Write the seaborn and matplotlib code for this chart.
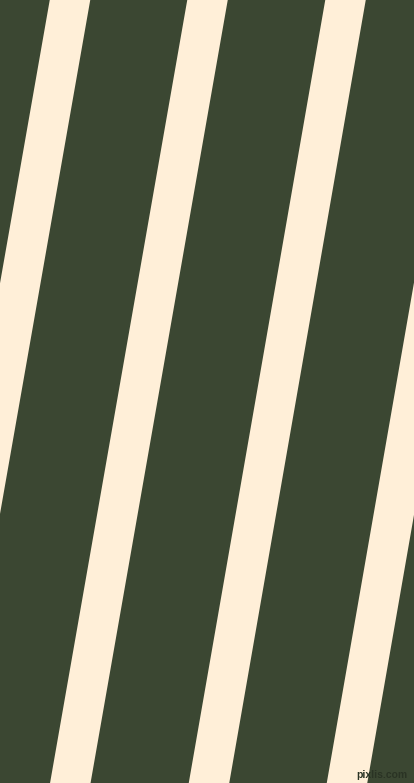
import numpy as np
import pandas as pd
import matplotlib
matplotlib.use("Agg")
import matplotlib.pyplot as plt
import seaborn as sns

# Stripe data (x position of each stripe centre at the top and bottom edge, px)
stripe_top_x = [-68.0, 70.0, 207.5, 345.5, 483.5, 621.0]
stripe_bottom_x = [-205.5, -67.5, 70.3, 209.0, 347.0, 485.0]
stripe_width = [40.5] * 6

background_color = "#3B4732"
stripe_color = "#FFEFD8"
watermark_text = "pixlis.com"

W, H = 414, 783

sns.set_theme(style="white")
plt.rcParams["font.family"] = ["Liberation Sans Narrow", "Liberation Sans", "DejaVu Sans"]

fig = plt.figure(figsize=(W / 100 + 1e-4, H / 100 + 1e-4), dpi=100)
ax = fig.add_axes([0, 0, 1, 1])
ax.set_facecolor(background_color)
fig.patch.set_facecolor(background_color)

df = pd.DataFrame({"top": stripe_top_x, "bottom": stripe_bottom_x, "width": stripe_width})
ys = np.array([0.0, float(H)])
for _, r in df.iterrows():
    centers = r["top"] + (r["bottom"] - r["top"]) * ys / H
    ax.fill_betweenx(ys, centers - r["width"] / 2, centers + r["width"] / 2,
                     color=stripe_color, linewidth=0)

ax.set_xlim(0, W)
ax.set_ylim(H, 0)
ax.set_axis_off()

ax.text(407, 774.5, watermark_text, ha="right", va="center", fontsize=7.5,
        color="#2A3324", fontweight="bold")

fig.savefig("out.png", dpi=100, facecolor=background_color)
